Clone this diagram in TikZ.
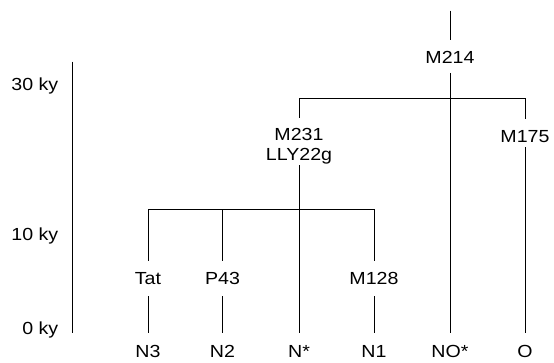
\documentclass[tikz,border=0pt]{standalone}
\usepackage{fontspec}
\setmainfont[FakeStretch=1.12]{Liberation Sans}
\begin{document}
\begin{tikzpicture}[x=1pt,y=-1pt,
  lbl/.style={anchor=base,inner xsep=1pt,inner ysep=0pt,font=\fontsize{17.5}{20}\selectfont},
  axl/.style={anchor=base east,inner sep=0pt,font=\fontsize{17.5}{20}\selectfont},
  ln/.style={line width=0.9pt,black}]
\useasboundingbox (0,0) rectangle (554,362);
% axis
\coordinate (axtop) at (72,61.7);
\coordinate (axbot) at (72,333);
\draw[ln] (axtop) -- (axbot);
\node[axl] (k30) at (58.5,90) {30 ky};
\node[axl] (k10) at (58.5,240) {10 ky};
\node[axl] (k0) at (58.5,334) {0 ky};
% labels
\node[lbl,text height=23.3pt,text depth=9.4pt] (m214) at (450,63.3) {M214};
\node[lbl,text height=22.7pt,text depth=0pt] (m231) at (299,140.7) {M231};
\node[lbl,text height=12pt,text depth=5pt] (lly) at (299,160) {LLY22g};
\node[lbl,text height=23.4pt,text depth=4pt] (m175) at (525,142.7) {M175};
\node[lbl,text height=23pt,text depth=12pt] (tat) at (148,284) {Tat};
\node[lbl,text height=23pt,text depth=12pt] (p43) at (222.5,284) {P43};
\node[lbl,text height=23pt,text depth=12pt] (m128) at (374,284) {M128};
\foreach \n/\x/\t in {n3/148/N3, n2/222.5/N2, nstar/299/N*, n1/374/N1, no/450/NO*, o/525/O}
  \node[lbl,text height=24.5pt,text depth=0pt] (\n) at (\x,357.5) {\t};
% top stem
\coordinate (top) at (450,10.7);
\draw[ln] (top) -- (m214.north);
\draw[ln] (m214.south) -- (no.north);
% upper bar
\coordinate (ubl) at (299,98);
\coordinate (ubr) at (525,98);
\draw[ln] (m231.north) -- (ubl) -- (ubr) -- (m175.north);
\draw[ln] (lly.south) -- (nstar.north);
\draw[ln] (m175.south) -- (o.north);
% lower bar
\coordinate (lbl) at (148,209.3);
\coordinate (lbr) at (374,209.3);
\coordinate (lbm) at (222.5,209.3);
\draw[ln] (tat.north) -- (lbl) -- (lbr) -- (m128.north);
\draw[ln] (p43.north) -- (lbm);
\draw[ln] (tat.south) -- (n3.north);
\draw[ln] (p43.south) -- (n2.north);
\draw[ln] (m128.south) -- (n1.north);
\end{tikzpicture}
\end{document}
